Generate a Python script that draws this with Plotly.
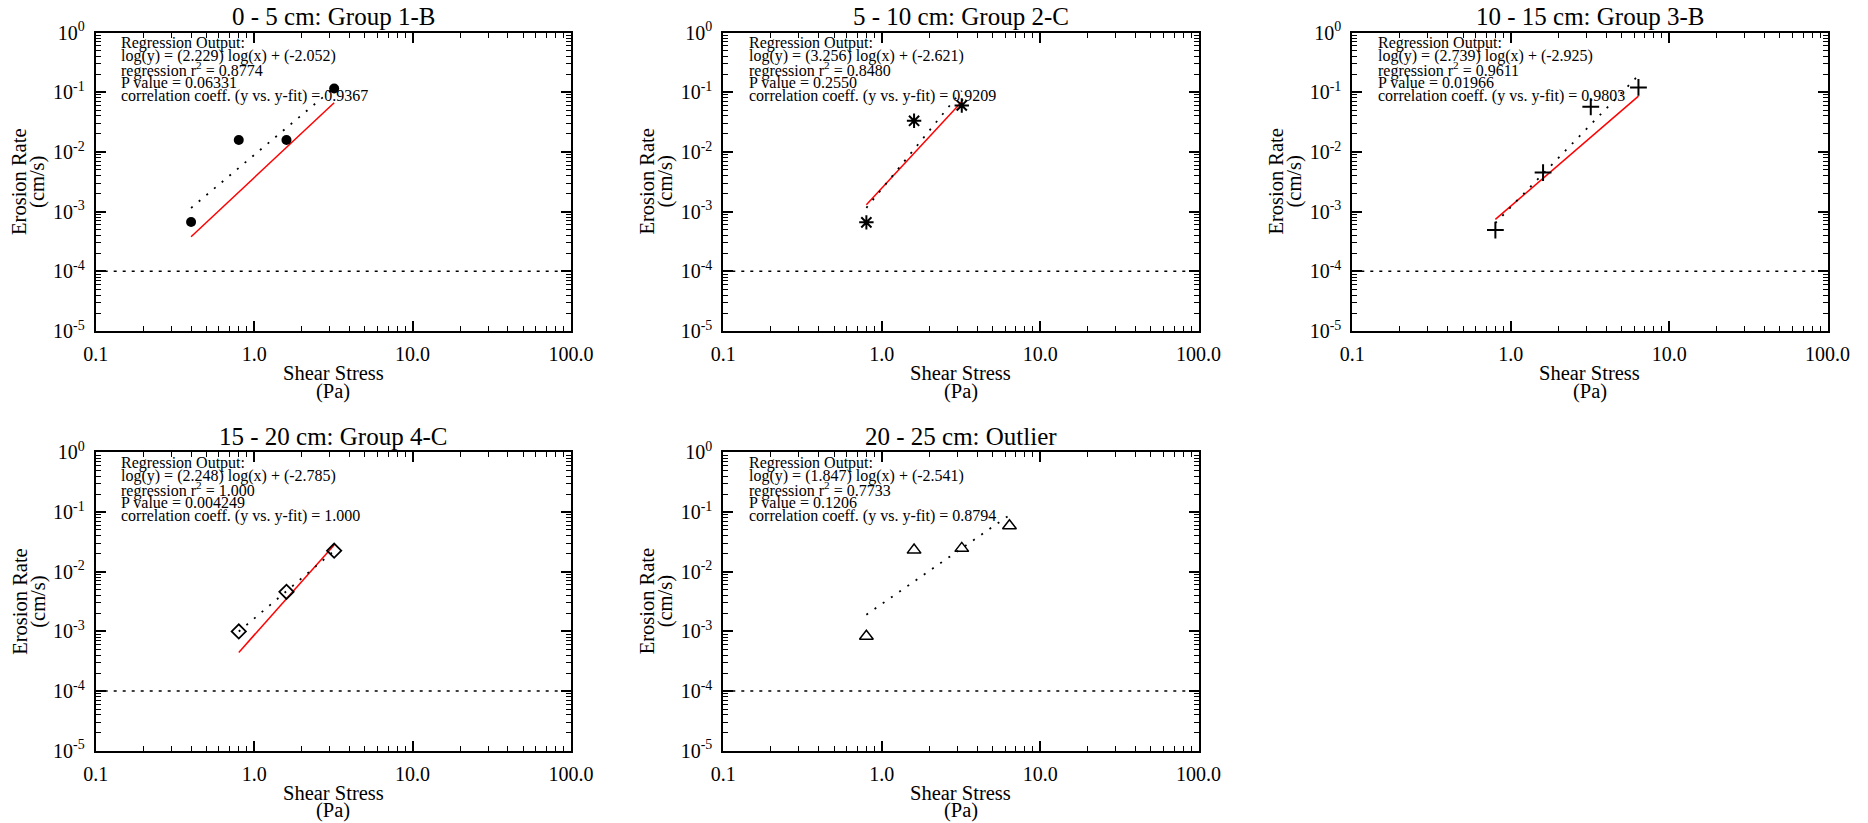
import plotly.graph_objects as go

# ---------------- data ----------------
titles = ["0 - 5 cm: Group 1-B", "5 - 10 cm: Group 2-C", "10 - 15 cm: Group 3-B",
          "15 - 20 cm: Group 4-C", "20 - 25 cm: Outlier"]

x1 = [0.4, 0.8, 1.6, 3.2]
y1 = [6.7e-4, 0.0158, 0.0158, 0.1155]
x2 = [0.8, 1.6, 3.2]
y2 = [6.6e-4, 0.0332, 0.060]
x3 = [0.8, 1.6, 3.2, 6.4]
y3 = [4.9e-4, 4.5e-3, 0.057, 0.12]
x4 = [0.8, 1.6, 3.2]
y4 = [1.0e-3, 4.6e-3, 0.0225]
x5 = [0.8, 1.6, 3.2, 6.4]
y5 = [8.3e-4, 0.023, 0.0246, 0.059]

# dotted regression line end points
fit_x = [[0.4, 3.2], [0.8, 3.2], [0.8, 6.4], [0.8, 3.2], [0.8, 6.4]]
fit_y = [[1.151e-3, 0.1186], [1.157e-3, 0.1056], [6.45e-4, 0.1919],
         [9.94e-4, 0.02243], [1.905e-3, 0.08871]]

# red line end points (none in last panel)
red_x = [[0.4, 3.2], [0.8, 3.2], [0.8, 6.4], [0.8, 3.2], None]
red_y = [[3.8e-4, 0.0665], [1.3e-3, 0.069], [7.4e-4, 0.086], [4.45e-4, 0.028], None]

threshold = 1e-4

slopes = ["2.229", "3.256", "2.739", "2.248", "1.847"]
intercepts = ["-2.052", "-2.621", "-2.925", "-2.785", "-2.541"]
r2_vals = ["0.8774", "0.8480", "0.9611", "1.000", "0.7733"]
p_vals = ["0.06331", "0.2550", "0.01966", "0.004249", "0.1206"]
corr_vals = ["0.9367", "0.9209", "0.9803", "1.000", "0.8794"]

x_tickvals = [0.1, 1, 10, 100]
x_ticktext = ["0.1", "1.0", "10.0", "100.0"]
y_tickvals = [1e-5, 1e-4, 1e-3, 1e-2, 1e-1, 1]
y_ticktext = ["10<sup>-5</sup>", "10<sup>-4</sup>", "10<sup>-3</sup>",
              "10<sup>-2</sup>", "10<sup>-1</sup>", "10<sup>0</sup>"]

xs = [x1, x2, x3, x4, x5]
ys = [y1, y2, y3, y4, y5]

# ---------------- styles ----------------
markers = [
    dict(symbol="circle", size=10, color="black"),
    dict(symbol="asterisk-open", size=12, color="black", line=dict(width=2, color="black")),
    dict(symbol="cross-thin-open", size=12, color="black", line=dict(width=2, color="black")),
    dict(symbol="diamond-open", size=11, color="black", line=dict(width=1.8, color="black")),
    dict(symbol="triangle-up-open", size=12, color="black", line=dict(width=1.5, color="black")),
]

W, H = 1868, 823
FONT = "Liberation Serif"
col_left = [95.7, 723.3, 1352.3]
row_top = [32.5, 452.3]
PW, PH = 475.3, 298.5
positions = [(0, 0), (0, 1), (0, 2), (1, 0), (1, 1)]


def fx(p):
    return p / W


def fy(p):
    return 1 - p / H


minor_x = [m * 10 ** e for e in range(-1, 2) for m in range(2, 10)]
minor_y = [m * 10 ** e for e in range(-5, 0) for m in range(2, 10)]

fig = go.Figure()
layout = dict(width=W, height=H, autosize=False,
              margin=dict(l=0, r=0, t=0, b=0, pad=0, autoexpand=False),
              paper_bgcolor="white", plot_bgcolor="white",
              showlegend=False, font=dict(family=FONT, color="black"))
annotations = []

for i in range(5):
    r, c = positions[i]
    left = col_left[c]
    top = row_top[r]
    xa = "x" if i == 0 else f"x{i+1}"
    ya = "y" if i == 0 else f"y{i+1}"
    xkey = "xaxis" if i == 0 else f"xaxis{i+1}"
    ykey = "yaxis" if i == 0 else f"yaxis{i+1}"

    layout[xkey] = dict(
        type="log", range=[-1, 2], domain=[fx(left), fx(left + PW)], anchor=ya,
        showline=True, linewidth=2, linecolor="black", mirror="allticks",
        ticks="inside", ticklen=10, tickwidth=1.5, tickcolor="black",
        tickmode="array", tickvals=x_tickvals, ticktext=x_ticktext,
        tickfont=dict(family=FONT, size=20, color="black"),
        ticklabelstandoff=4,
        minor=dict(tickmode="array", tickvals=minor_x, ticks="inside", ticklen=5,
                   tickwidth=1.2, tickcolor="black", showgrid=False),
        showgrid=False, zeroline=False,
    )
    layout[ykey] = dict(
        type="log", range=[-5, 0], domain=[fy(top + PH), fy(top)], anchor=xa,
        showline=True, linewidth=2, linecolor="black", mirror="allticks",
        ticks="inside", ticklen=10, tickwidth=1.5, tickcolor="black",
        tickmode="array", tickvals=y_tickvals, ticktext=y_ticktext,
        tickfont=dict(family=FONT, size=20, color="black"),
        ticklabelstandoff=5,
        minor=dict(tickmode="array", tickvals=minor_y, ticks="inside", ticklen=5,
                   tickwidth=1.2, tickcolor="black", showgrid=False),
        showgrid=False, zeroline=False,
    )

    # threshold line
    fig.add_trace(go.Scatter(x=[x_tickvals[0], x_tickvals[-1]], y=[threshold, threshold],
                             mode="lines", line=dict(color="black", width=1.5, dash="3px,6px"),
                             xaxis=xa, yaxis=ya, hoverinfo="skip"))
    # red line
    if red_x[i] is not None:
        fig.add_trace(go.Scatter(x=red_x[i], y=red_y[i], mode="lines",
                                 line=dict(color="red", width=1.5),
                                 xaxis=xa, yaxis=ya))
    # regression dotted line
    fig.add_trace(go.Scatter(x=fit_x[i], y=fit_y[i], mode="lines",
                             line=dict(color="black", width=1.8, dash="2px,8px"),
                             xaxis=xa, yaxis=ya))
    # data points
    fig.add_trace(go.Scatter(x=xs[i], y=ys[i], mode="markers", marker=markers[i],
                             xaxis=xa, yaxis=ya))

    cx = left + PW / 2
    # title
    annotations.append(dict(text=titles[i], x=fx(cx), y=fy(top - 15.8), xref="paper", yref="paper",
                            showarrow=False, xanchor="center", yanchor="middle",
                            font=dict(family=FONT, size=25, color="black")))
    # x axis title (two lines)
    annotations.append(dict(text="Shear Stress", x=fx(cx), y=fy(top + PH + 42), xref="paper",
                            yref="paper", showarrow=False, xanchor="center", yanchor="middle",
                            font=dict(family=FONT, size=20.5, color="black")))
    annotations.append(dict(text="(Pa)", x=fx(cx), y=fy(top + PH + 60), xref="paper",
                            yref="paper", showarrow=False, xanchor="center", yanchor="middle",
                            font=dict(family=FONT, size=20.5, color="black")))
    # y axis title (two lines, rotated)
    cy = top + PH / 2
    annotations.append(dict(text="Erosion Rate", x=fx(left - 76.5), y=fy(cy), xref="paper",
                            yref="paper", showarrow=False, xanchor="center", yanchor="middle",
                            textangle=-90, font=dict(family=FONT, size=20.5, color="black")))
    annotations.append(dict(text="(cm/s)", x=fx(left - 57.5), y=fy(cy), xref="paper",
                            yref="paper", showarrow=False, xanchor="center", yanchor="middle",
                            textangle=-90, font=dict(family=FONT, size=20.5, color="black")))
    # regression text
    lines = [
        "Regression Output:",
        f"log(y) = ({slopes[i]}) log(x) + ({intercepts[i]})",
        f"regression r<sup>2</sup> = {r2_vals[i]}",
        f"P value = {p_vals[i]}",
        f"correlation coeff. (y vs. y-fit) = {corr_vals[i]}",
    ]
    for k, ln in enumerate(lines):
        annotations.append(dict(text=ln, x=fx(left + 23.5), y=fy(top + 10.5 + 13.3 * k),
                                xref="paper", yref="paper", showarrow=False,
                                xanchor="left", yanchor="middle",
                                font=dict(family=FONT, size=16, color="black")))

layout["annotations"] = annotations
fig.update_layout(**layout)
fig.write_html("out.html")
